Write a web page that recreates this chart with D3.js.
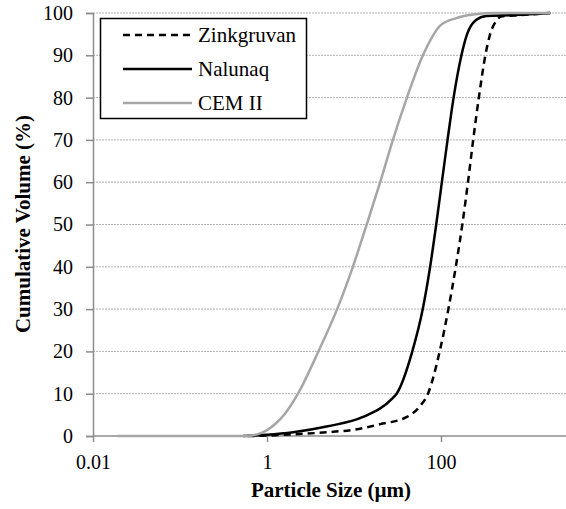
<!DOCTYPE html>
<html>
<head>
<meta charset="utf-8">
<script src="https://cdn.jsdelivr.net/npm/d3@7"></script>
<style>
  html, body { margin: 0; padding: 0; background: #fff; }
  svg { display: block; font-family: 'Liberation Serif', 'Times New Roman', serif; }
</style>
</head>
<body>
<svg id="chart" width="566" height="509"></svg>
<script>
'use strict'

// Particle sizes (µm) and cumulative volume (%) for each material
const zinkSize = [0.6, 1, 2, 5, 10, 20, 40.5, 57, 70.8, 96.6, 121.6, 147.9, 175.8, 204.2, 234.4, 272.3, 323.6, 367.3, 426.6, 501.2, 700, 1800]
const zinkValue = [0, 0.1, 0.4, 0.9, 1.5, 2.8, 4.5, 7, 10, 20, 30, 40, 50, 60, 70, 80, 90, 95, 98, 99.2, 99.4, 100]

const naluSize = [0.53, 1, 2, 5, 12.7, 28, 30.9, 46.8, 61.7, 75, 88.1, 102.3, 118.9, 139.6, 171.8, 199.5, 251, 331, 700, 1800]
const naluValue = [0, 0.3, 0.9, 2.3, 4.5, 9, 10, 20, 30, 40, 50, 60, 70, 80, 90, 95, 98.3, 99.3, 99.5, 100]

const cemSize = [0.019, 0.55, 0.7, 0.85, 1, 1.25, 1.6, 2.27, 3.9, 6.4, 9.7, 14, 20, 28, 40.6, 62, 100, 150, 250, 400, 1800]
const cemValue = [0, 0, 0.2, 0.7, 1.4, 2.9, 5.2, 10, 20, 30, 40, 50, 60, 70, 80, 90, 97.2, 98.8, 99.7, 100, 100]

const seriesNames = ['Zinkgruvan', 'Nalunaq', 'CEM II']
const xTicks = [0.01, 1, 100]
const yTicks = d3.range(0, 101, 10)

const series = [
  { name: seriesNames[0], size: zinkSize, value: zinkValue, color: '#000', dash: '7,5' },
  { name: seriesNames[1], size: naluSize, value: naluValue, color: '#000', dash: null },
  { name: seriesNames[2], size: cemSize, value: cemValue, color: '#a6a6a6', dash: null },
]

const svg = d3.select('#chart')
const font = "'Liberation Serif', 'Times New Roman', serif"

const x = d3.scaleLog().domain([0.01, 10000]).range([93, 615])
const y = d3.scaleLinear().domain([0, 100]).range([436, 13])

// Gridlines.
svg.append('g')
  .selectAll('line')
  .data(yTicks.slice(1))
  .enter()
  .append('line')
  .attr('x1', 93)
  .attr('x2', 566)
  .attr('y1', d => y(d))
  .attr('y2', d => y(d))
  .attr('stroke', '#b3b3b3')
  .attr('stroke-width', 1)
  .attr('stroke-dasharray', '2,1')

// Axes.
const yAxis = svg.append('g')
  .attr('transform', 'translate(93,0)')
  .call(d3.axisLeft(y).tickValues(yTicks).tickSize(7).tickPadding(13).tickFormat(d3.format('d')))
const xAxis = svg.append('g')
  .attr('transform', 'translate(0,436)')
  .call(d3.axisBottom(x).tickValues(xTicks).tickSize(6).tickPadding(13).tickFormat(d => String(d)))

;[xAxis, yAxis].forEach(axis => {
  axis.attr('font-family', font).attr('font-size', 20)
  axis.select('.domain').attr('stroke', '#8c8c8c').attr('stroke-width', 1.5)
  axis.selectAll('.tick line').attr('stroke', '#8c8c8c').attr('stroke-width', 1.5)
  axis.selectAll('.tick text').attr('fill', '#000')
})
xAxis.select('.domain').attr('d', 'M93,0H566')

// Lines.
const line = d3.line()
  .x(d => x(d[0]))
  .y(d => y(d[1]))
  .curve(d3.curveMonotoneX)

series.forEach(s => {
  svg.append('path')
    .datum(s.size.map((v, i) => [v, s.value[i]]))
    .attr('d', line)
    .attr('fill', 'none')
    .attr('stroke', s.color)
    .attr('stroke-width', 2.5)
    .attr('stroke-dasharray', s.dash)
})

// Legend.
const legend = svg.append('g')
legend.append('rect')
  .attr('x', 100.5).attr('y', 18.5)
  .attr('width', 206).attr('height', 100)
  .attr('fill', '#fff').attr('stroke', '#000').attr('stroke-width', 1.5)

const legendY = [35, 69, 103]
series.forEach((s, i) => {
  legend.append('line')
    .attr('x1', 123).attr('x2', 192)
    .attr('y1', legendY[i]).attr('y2', legendY[i])
    .attr('stroke', s.color).attr('stroke-width', 2.5)
    .attr('stroke-dasharray', s.dash)
  legend.append('text')
    .attr('x', 198).attr('y', legendY[i])
    .attr('dy', '0.35em')
    .attr('font-family', font)
    .style('font-size', '21px')
    .text(s.name)
})

// Titles.
svg.append('text')
  .attr('x', 331).attr('y', 497)
  .attr('text-anchor', 'middle')
  .attr('font-family', font)
  .style('font-size', '21px').style('font-weight', 'bold')
  .text('Particle Size (µm)')
svg.append('text')
  .attr('transform', 'translate(30,224) rotate(-90)')
  .attr('text-anchor', 'middle')
  .attr('font-family', font)
  .style('font-size', '21px').style('font-weight', 'bold')
  .text('Cumulative Volume (%)')
</script>
</body>
</html>
